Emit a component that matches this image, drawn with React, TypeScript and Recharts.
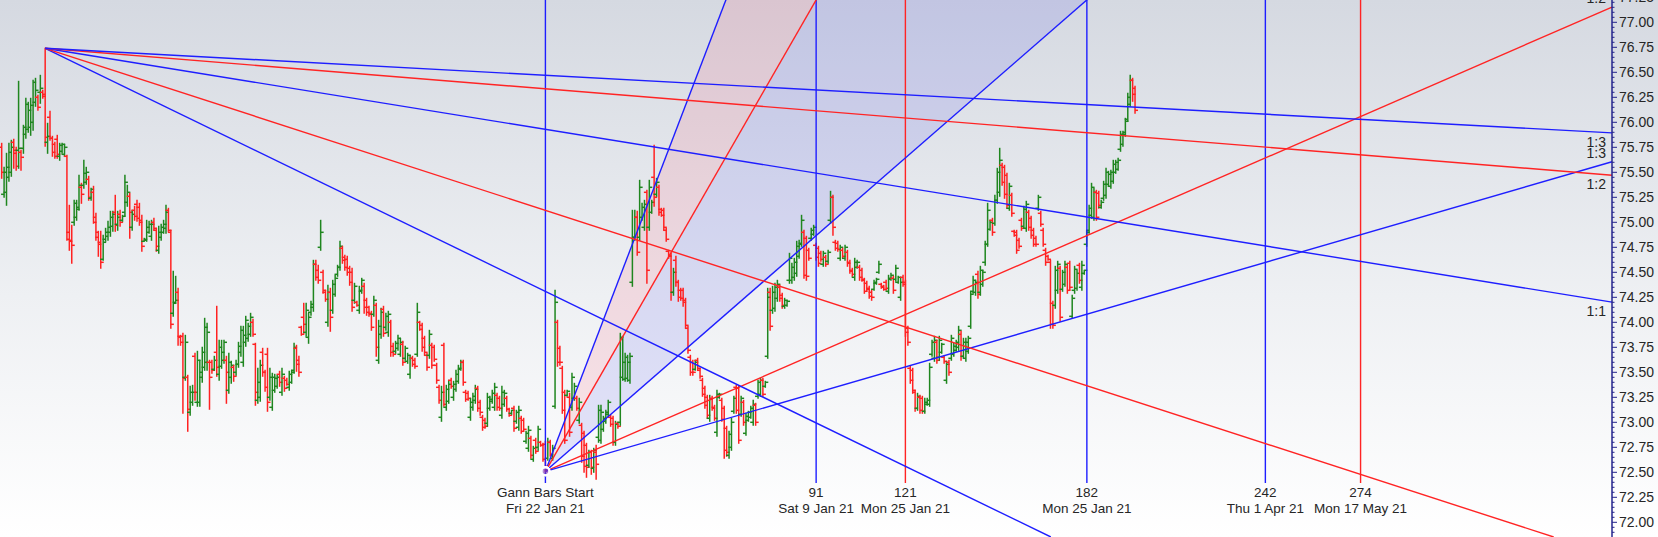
import { ComposedChart, Bar, Area, XAxis, YAxis, ReferenceLine, ReferenceDot } from "recharts"

// open, high, low, close
type Ohlc = [number, number, number, number]

const BARS_1: Ohlc[] = [
  [75.75, 75.79, 75.44, 75.5], [75.28, 75.55, 75.25, 75.5], [75.3, 75.69, 75.17, 75.55], [75.45, 75.79, 75.41, 75.7],
  [75.5, 75.82, 75.46, 75.75], [75.8, 75.83, 75.54, 75.69], [75.72, 75.75, 75.52, 75.56], [75.72, 76.41, 75.54, 75.74],
  [75.7, 75.72, 75.52, 75.65], [75.74, 75.97, 75.69, 75.95], [75.88, 76.24, 75.84, 76.18], [75.93, 76.2, 75.9, 76.12],
  [75.95, 76.24, 75.87, 76.17], [76.0, 76.42, 75.92, 76.4], [76.2, 76.44, 76.16, 76.32], [76.25, 76.27, 76.12, 76.15],
  [76.3, 76.47, 76.19, 76.34], [76.3, 76.32, 76.24, 76.26], [76.28, 76.74, 75.76, 75.85], [75.8, 75.99, 75.69, 75.86],
  [76.05, 76.11, 75.82, 75.84], [75.84, 75.86, 75.66, 75.7], [75.78, 75.8, 75.64, 75.66], [75.83, 75.87, 75.64, 75.68],
  [75.66, 75.79, 75.62, 75.77], [75.71, 75.79, 75.69, 75.78], [75.68, 75.78, 75.66, 75.75], [75.66, 75.67, 74.82, 74.83],
  [74.9, 75.17, 74.72, 74.81], [74.82, 74.97, 74.59, 74.77], [75.0, 75.22, 74.97, 75.19], [75.05, 75.22, 75.02, 75.13],
  [75.15, 75.47, 75.12, 75.37], [75.35, 75.39, 75.19, 75.28], [75.37, 75.62, 75.34, 75.49], [75.4, 75.55, 75.38, 75.5],
  [75.43, 75.46, 75.22, 75.25], [75.24, 75.34, 75.22, 75.33], [75.3, 75.36, 74.99, 75.0], [75.05, 75.09, 74.82, 74.9],
  [74.85, 74.91, 74.66, 74.78], [74.8, 74.91, 74.54, 74.6], [74.63, 74.87, 74.62, 74.8], [74.83, 74.94, 74.81, 74.9],
  [74.86, 75.01, 74.82, 74.95], [74.9, 75.11, 74.86, 75.05], [74.96, 75.11, 74.91, 75.08], [75.1, 75.27, 74.91, 74.97],
  [74.98, 75.11, 74.92, 75.05], [75.08, 75.12, 74.96, 75.0], [75.02, 75.07, 75.01, 75.06], [75.1, 75.47, 75.06, 75.4],
  [75.2, 75.37, 75.16, 75.3], [75.26, 75.29, 74.84, 75.1], [74.95, 75.12, 74.92, 75.08], [75.12, 75.16, 75.02, 75.06],
  [75.18, 75.22, 75.01, 75.04], [75.15, 75.19, 74.97, 75.0], [75.02, 75.07, 74.71, 74.76], [74.81, 74.84, 74.81, 74.83],
  [74.82, 75.02, 74.81, 74.95], [74.9, 75.01, 74.89, 74.98], [74.86, 75.02, 74.82, 74.98], [75.0, 75.04, 74.92, 74.94],
  [74.92, 74.94, 74.71, 74.76], [74.72, 74.96, 74.69, 74.9], [74.85, 74.98, 74.82, 74.95], [74.9, 75.02, 74.89, 74.98],
  [74.94, 75.17, 74.89, 75.1], [75.12, 75.14, 74.91, 74.92], [74.9, 74.92, 73.94, 73.98], [74.09, 74.51, 74.06, 74.19],
  [74.2, 74.46, 74.19, 74.22], [74.3, 74.34, 73.77, 73.85], [73.86, 73.87, 73.77, 73.8], [73.86, 73.89, 73.09, 73.44],
  [73.45, 73.87, 73.42, 73.8], [73.45, 73.47, 72.91, 73.13], [73.1, 73.36, 73.07, 73.3], [73.2, 73.37, 73.17, 73.3],
  [73.66, 73.69, 73.22, 73.3], [73.2, 73.71, 73.16, 73.62], [73.2, 73.62, 73.16, 73.5], [73.45, 73.75, 73.4, 73.7],
  [73.55, 74.04, 73.52, 73.95], [73.6, 73.99, 73.52, 73.9], [73.6, 73.62, 73.13, 73.45], [73.6, 73.62, 73.49, 73.52],
  [73.53, 73.66, 73.52, 73.62], [73.7, 74.16, 73.46, 73.55], [73.48, 73.82, 73.42, 73.75], [73.56, 73.82, 73.54, 73.7],
  [73.62, 73.82, 73.59, 73.8], [73.62, 73.66, 73.19, 73.5], [73.32, 73.69, 73.29, 73.6], [73.45, 73.61, 73.39, 73.57],
  [73.55, 73.57, 73.41, 73.46], [73.5, 73.62, 73.47, 73.58], [73.58, 73.8, 73.55, 73.76], [73.7, 73.96, 73.66, 73.92],
  [73.6, 73.96, 73.56, 73.87], [73.8, 74.06, 73.76, 74.02], [73.84, 73.99, 73.81, 73.96], [73.88, 74.09, 73.86, 74.05],
  [74.0, 74.03, 73.86, 73.88], [73.78, 73.79, 73.17, 73.3], [73.22, 73.54, 73.19, 73.4], [73.25, 73.62, 73.21, 73.57],
  [73.7, 73.74, 73.46, 73.5], [73.5, 73.52, 73.31, 73.35], [73.68, 73.74, 73.11, 73.2], [73.25, 73.54, 73.22, 73.45],
  [73.15, 73.49, 73.12, 73.45], [73.32, 73.48, 73.3, 73.44], [73.36, 73.47, 73.34, 73.45], [73.48, 73.51, 73.36, 73.4],
  [73.3, 73.54, 73.27, 73.48], [73.44, 73.46, 73.31, 73.34],
]

const BARS_2: Ohlc[] = [
  [73.42, 73.44, 73.37, 73.38], [73.35, 73.51, 73.32, 73.48], [73.4, 73.52, 73.39, 73.5], [73.52, 73.79, 73.49, 73.75],
  [73.74, 73.77, 73.51, 73.58], [73.62, 73.66, 73.46, 73.5], [73.95, 73.96, 73.87, 73.88], [74.05, 74.19, 73.89, 73.98],
  [73.9, 74.19, 73.86, 74.12], [73.85, 74.09, 73.79, 74.05], [74.1, 74.21, 74.07, 74.18], [74.15, 74.62, 74.11, 74.58],
  [74.58, 74.62, 74.42, 74.45], [74.52, 74.57, 74.39, 74.42], [74.75, 75.02, 74.72, 74.9], [74.5, 74.52, 74.29, 74.32],
  [74.3, 74.32, 74.21, 74.23], [74.0, 74.37, 73.96, 74.3], [74.3, 74.34, 73.91, 74.05], [74.12, 74.42, 74.09, 74.38],
  [74.28, 74.47, 74.26, 74.44], [74.48, 74.57, 74.46, 74.55], [74.55, 74.81, 74.52, 74.76], [74.74, 74.76, 74.59, 74.62],
  [74.65, 74.67, 74.52, 74.55], [74.63, 74.66, 74.47, 74.5], [74.54, 74.56, 74.37, 74.4], [74.5, 74.54, 74.11, 74.15],
  [74.22, 74.39, 74.19, 74.36], [74.2, 74.21, 74.16, 74.17], [74.12, 74.36, 74.09, 74.32], [74.31, 74.44, 74.29, 74.42],
  [74.36, 74.39, 74.09, 74.15], [74.22, 74.24, 74.07, 74.1], [74.15, 74.16, 74.06, 74.08], [74.09, 74.11, 73.92, 73.95],
  [74.08, 74.26, 74.06, 74.22], [74.17, 74.19, 73.66, 73.75], [73.62, 74.02, 73.59, 73.96], [73.88, 74.14, 73.84, 74.1],
  [74.13, 74.16, 73.86, 73.89], [73.95, 74.09, 73.92, 74.06], [73.9, 74.11, 73.86, 74.08], [74.0, 74.02, 73.66, 73.7],
  [73.76, 73.79, 73.66, 73.68], [73.71, 73.81, 73.69, 73.79], [73.74, 73.87, 73.72, 73.84], [73.68, 73.84, 73.66, 73.8],
  [73.78, 73.81, 73.57, 73.6], [73.64, 73.76, 73.62, 73.74], [73.61, 73.69, 73.59, 73.67], [73.48, 73.67, 73.44, 73.64],
  [73.64, 73.66, 73.56, 73.58], [73.62, 73.64, 73.54, 73.56], [73.68, 74.19, 73.66, 74.1], [74.0, 74.01, 73.92, 73.93],
  [73.97, 73.99, 73.71, 73.75], [73.84, 73.86, 73.67, 73.7], [73.67, 73.69, 73.52, 73.55], [73.67, 73.92, 73.64, 73.88],
  [73.77, 73.79, 73.54, 73.57], [73.75, 73.77, 73.61, 73.63], [73.57, 73.59, 73.39, 73.42], [73.35, 73.37, 73.19, 73.22],
  [73.05, 73.36, 73.01, 73.3], [73.77, 73.79, 73.16, 73.18], [73.15, 73.37, 73.12, 73.33], [73.21, 73.42, 73.19, 73.38],
  [73.42, 73.44, 73.34, 73.36], [73.25, 73.41, 73.22, 73.38], [73.33, 73.52, 73.31, 73.48], [73.41, 73.57, 73.39, 73.54],
  [73.53, 73.62, 73.52, 73.6], [73.6, 73.62, 73.37, 73.4], [73.3, 73.32, 73.21, 73.23], [73.29, 73.31, 73.22, 73.24],
  [73.05, 73.24, 73.02, 73.2], [73.15, 73.29, 73.12, 73.26], [73.22, 73.37, 73.19, 73.33], [73.34, 73.36, 73.11, 73.14],
  [73.2, 73.22, 73.07, 73.1], [73.05, 73.07, 72.92, 72.95], [73.02, 73.04, 72.94, 72.96], [72.99, 73.29, 72.96, 73.25],
  [73.14, 73.26, 73.12, 73.23], [73.21, 73.32, 73.19, 73.29], [73.15, 73.39, 73.12, 73.35], [73.27, 73.29, 73.12, 73.15],
  [73.24, 73.26, 73.12, 73.14], [73.07, 73.36, 73.04, 73.3], [73.18, 73.32, 73.16, 73.29], [73.24, 73.26, 73.11, 73.13],
  [73.13, 73.14, 73.06, 73.07], [73.09, 73.12, 73.08, 73.12], [73.14, 73.16, 72.91, 72.94], [73.01, 73.12, 72.99, 73.1],
  [72.95, 73.16, 72.92, 73.12], [73.04, 73.06, 72.89, 72.91], [73.02, 73.04, 72.91, 72.93], [72.81, 72.91, 72.79, 72.89],
  [72.74, 72.96, 72.71, 72.92], [72.84, 72.86, 72.64, 72.67], [72.63, 72.76, 72.61, 72.74], [72.82, 72.84, 72.69, 72.71],
  [72.75, 72.96, 72.72, 72.93], [72.8, 72.81, 72.76, 72.77], [72.77, 72.79, 72.61, 72.63], [72.78, 72.81, 72.51, 72.56],
  [72.64, 72.84, 72.62, 72.8], [72.8, 72.82, 72.66, 72.68], [72.64, 72.77, 72.62, 72.74], [73.16, 74.32, 73.14, 74.2],
  [74.0, 74.02, 73.56, 73.6], [73.74, 73.76, 73.57, 73.6], [73.54, 73.56, 73.09, 73.12], [73.3, 73.32, 72.79, 72.82],
  [73.27, 73.32, 73.26, 73.31],
]

const BARS_3: Ohlc[] = [
  [73.25, 73.29, 72.86, 72.9], [73.15, 73.49, 73.12, 73.45], [73.24, 73.39, 73.22, 73.36], [73.24, 73.26, 73.12, 73.14],
  [73.02, 73.24, 72.99, 73.2], [72.97, 72.99, 72.6, 72.66], [72.89, 72.91, 72.5, 72.56], [72.77, 72.79, 72.45, 72.55],
  [72.57, 72.72, 72.55, 72.7], [72.7, 72.72, 72.48, 72.55], [72.54, 72.74, 72.5, 72.72], [72.7, 72.77, 72.43, 72.58],
  [72.85, 73.17, 72.8, 73.12], [72.82, 73.17, 72.79, 73.1], [72.93, 73.06, 72.91, 73.04], [73.01, 73.12, 72.99, 73.1],
  [73.08, 73.22, 73.06, 73.2], [73.05, 73.07, 72.96, 72.98], [73.04, 73.06, 72.77, 72.8], [72.8, 73.01, 72.77, 72.98],
  [72.99, 73.0, 72.94, 72.96], [73.0, 73.89, 72.97, 73.85], [73.45, 73.86, 73.42, 73.6], [73.43, 73.69, 73.41, 73.65],
  [73.44, 73.67, 73.41, 73.6], [73.42, 73.69, 73.39, 73.66], [74.4, 75.12, 74.36, 74.85], [74.85, 75.12, 74.82, 75.05],
  [75.05, 75.11, 74.67, 74.7], [74.85, 75.42, 74.82, 75.35], [75.05, 75.19, 75.02, 75.15], [74.95, 75.22, 74.92, 75.18],
  [75.3, 75.32, 74.39, 74.52], [74.95, 75.42, 74.92, 75.35], [75.1, 75.22, 75.09, 75.2], [75.45, 75.77, 75.16, 75.25],
  [75.28, 75.44, 75.26, 75.4], [75.35, 75.37, 75.07, 75.1], [75.13, 75.14, 75.06, 75.07], [75.12, 75.14, 74.92, 74.95],
  [74.92, 74.94, 74.81, 74.83], [74.71, 74.72, 74.64, 74.66], [74.67, 74.69, 74.22, 74.3], [74.3, 74.54, 74.27, 74.5],
  [74.62, 74.66, 74.36, 74.4], [74.4, 74.42, 74.21, 74.25], [74.32, 74.34, 74.22, 74.24], [74.32, 74.34, 74.16, 74.2],
  [74.22, 74.24, 73.94, 73.97], [73.94, 73.96, 73.69, 73.72], [73.65, 73.67, 73.47, 73.5], [73.6, 73.62, 73.47, 73.5],
  [73.53, 73.62, 73.52, 73.6], [73.62, 73.64, 73.52, 73.54], [73.52, 73.54, 73.44, 73.46], [73.42, 73.44, 73.26, 73.28],
  [73.34, 73.36, 73.14, 73.17], [73.25, 73.27, 73.04, 73.07], [73.04, 73.27, 73.01, 73.23], [73.24, 73.26, 73.12, 73.14],
  [73.15, 73.17, 73.02, 73.04], [72.9, 73.32, 72.86, 73.28], [73.25, 73.29, 73.24, 73.28], [73.22, 73.24, 73.01, 73.03],
  [73.14, 73.16, 72.64, 72.72], [72.94, 72.96, 72.66, 72.7], [72.67, 72.91, 72.64, 72.88], [72.75, 73.04, 72.72, 73.0],
  [73.11, 73.26, 73.09, 73.24], [73.35, 73.37, 73.09, 73.12], [73.34, 73.36, 72.79, 72.82], [73.08, 73.26, 73.06, 73.24],
  [73.2, 73.22, 72.97, 73.0], [72.89, 73.09, 72.87, 73.06], [73.02, 73.11, 73.01, 73.1], [73.05, 73.16, 73.04, 73.14],
  [73.0, 73.22, 72.97, 73.18], [73.17, 73.19, 72.97, 73.0], [73.26, 73.42, 73.24, 73.4], [73.28, 73.44, 73.26, 73.42],
  [73.42, 73.44, 73.26, 73.28], [73.36, 73.41, 73.35, 73.4], [73.66, 74.34, 73.64, 74.25], [74.3, 74.34, 73.92, 73.96],
  [74.12, 74.36, 74.09, 74.3], [74.14, 74.39, 74.11, 74.35], [74.24, 74.42, 74.21, 74.38], [74.35, 74.37, 74.21, 74.24],
  [74.27, 74.29, 74.14, 74.17], [74.16, 74.24, 74.14, 74.22], [74.17, 74.22, 74.16, 74.21], [74.42, 74.69, 74.39, 74.64],
  [74.42, 74.59, 74.39, 74.55], [74.45, 74.64, 74.42, 74.6], [74.49, 74.81, 74.46, 74.76], [74.66, 74.82, 74.64, 74.78],
  [74.79, 75.07, 74.76, 75.02], [74.9, 74.92, 74.44, 74.47], [74.84, 74.86, 74.42, 74.46], [74.72, 74.74, 74.62, 74.64],
  [74.84, 74.94, 74.82, 74.92], [74.88, 74.97, 74.87, 74.95], [74.77, 74.79, 74.62, 74.65], [74.74, 74.76, 74.56, 74.59],
  [74.69, 74.71, 74.61, 74.63], [74.58, 74.71, 74.56, 74.69], [74.65, 74.67, 74.56, 74.58], [74.61, 74.72, 74.59, 74.7],
  [75.02, 75.31, 74.99, 75.25], [75.25, 75.27, 74.87, 74.95], [74.8, 74.82, 74.72, 74.74], [74.79, 74.81, 74.71, 74.73],
  [74.64, 74.77, 74.62, 74.75], [74.72, 74.74, 74.64, 74.66], [74.64, 74.77, 74.62, 74.75], [74.7, 74.72, 74.56, 74.59],
  [74.6, 74.62, 74.49, 74.51], [74.52, 74.54, 74.46, 74.48], [74.45, 74.64, 74.42, 74.6],
]

const BARS_4: Ohlc[] = [
  [74.55, 74.62, 74.54, 74.6], [74.55, 74.57, 74.42, 74.45], [74.52, 74.54, 74.41, 74.43], [74.42, 74.44, 74.29, 74.31],
  [74.39, 74.41, 74.31, 74.33], [74.34, 74.36, 74.24, 74.26], [74.3, 74.32, 74.22, 74.25], [74.33, 74.42, 74.32, 74.4],
  [74.39, 74.44, 74.38, 74.43], [74.5, 74.61, 74.49, 74.58], [74.38, 74.39, 74.34, 74.35], [74.36, 74.37, 74.32, 74.33],
  [74.4, 74.42, 74.32, 74.34], [74.31, 74.47, 74.29, 74.44], [74.43, 74.49, 74.42, 74.47], [74.44, 74.46, 74.29, 74.32],
  [74.43, 74.57, 74.41, 74.54], [74.4, 74.46, 74.39, 74.45], [74.25, 74.44, 74.22, 74.4], [74.45, 74.47, 74.36, 74.38],
  [74.4, 74.42, 73.86, 73.9], [73.94, 73.96, 73.77, 73.8], [73.54, 73.56, 73.39, 73.42], [73.52, 73.54, 73.29, 73.32],
  [73.3, 73.32, 73.11, 73.14], [73.14, 73.29, 73.12, 73.26], [73.25, 73.27, 73.09, 73.12], [73.24, 73.26, 73.09, 73.11],
  [73.11, 73.24, 73.09, 73.2], [73.18, 73.24, 73.17, 73.22], [73.18, 73.59, 73.16, 73.55], [73.68, 73.82, 73.66, 73.8],
  [73.64, 73.86, 73.61, 73.82], [73.8, 73.82, 73.59, 73.62], [73.65, 73.86, 73.62, 73.82], [73.7, 73.79, 73.69, 73.78],
  [73.65, 73.66, 73.59, 73.61], [73.42, 73.61, 73.39, 73.58], [73.6, 73.62, 73.47, 73.5], [73.64, 73.87, 73.62, 73.84],
  [73.68, 73.79, 73.66, 73.76], [73.72, 73.82, 73.71, 73.8], [73.75, 73.96, 73.72, 73.92], [73.88, 73.91, 73.62, 73.66],
  [73.66, 73.84, 73.64, 73.8], [73.64, 73.84, 73.61, 73.8], [73.71, 73.86, 73.69, 73.84], [73.96, 74.31, 73.94, 74.28],
  [74.31, 74.46, 74.29, 74.42], [74.3, 74.42, 74.27, 74.4], [74.48, 74.51, 74.24, 74.28], [74.3, 74.56, 74.27, 74.52],
  [74.38, 74.52, 74.36, 74.5], [74.6, 74.81, 74.57, 74.78], [74.78, 75.19, 74.76, 75.12], [74.93, 75.02, 74.92, 75.0],
  [75.02, 75.04, 74.87, 74.9], [74.99, 75.27, 74.97, 75.22], [75.22, 75.54, 75.19, 75.5], [75.3, 75.74, 75.26, 75.62],
  [75.57, 75.59, 75.37, 75.4], [75.55, 75.57, 75.24, 75.28], [75.47, 75.49, 75.14, 75.17], [75.14, 75.39, 75.12, 75.36],
  [75.27, 75.29, 75.06, 75.09], [74.91, 74.92, 74.86, 74.87], [74.9, 74.92, 74.69, 74.72], [74.82, 74.84, 74.74, 74.76],
  [75.02, 75.04, 74.92, 74.94], [74.96, 75.16, 74.94, 75.13], [74.94, 75.21, 74.91, 75.18], [75.1, 75.12, 74.92, 74.95],
  [75.04, 75.06, 74.84, 74.87], [74.92, 74.94, 74.76, 74.78], [74.84, 74.86, 74.76, 74.78], [75.14, 75.27, 75.12, 75.25],
  [75.09, 75.11, 74.96, 74.98], [74.92, 74.94, 74.76, 74.78], [74.72, 74.74, 74.57, 74.6], [74.66, 74.67, 74.62, 74.63],
  [74.6, 74.62, 73.94, 73.98], [74.19, 74.21, 73.94, 73.97], [74.17, 74.56, 74.14, 74.52], [74.32, 74.61, 74.29, 74.58],
  [74.54, 74.56, 74.01, 74.05], [74.33, 74.52, 74.31, 74.5], [74.38, 74.61, 74.36, 74.58], [74.55, 74.57, 74.29, 74.32],
  [74.59, 74.61, 74.32, 74.35], [74.06, 74.27, 74.04, 74.24], [74.32, 74.56, 74.29, 74.53], [74.34, 74.52, 74.32, 74.49],
  [74.57, 74.59, 74.39, 74.42], [74.35, 74.61, 74.32, 74.57], [74.49, 74.52, 74.48, 74.52], [74.78, 74.92, 74.76, 74.9],
  [74.92, 75.17, 74.89, 75.14], [75.07, 75.39, 75.04, 75.35], [75.05, 75.34, 75.02, 75.3], [75.3, 75.32, 75.02, 75.05],
  [75.29, 75.31, 75.14, 75.17], [75.15, 75.22, 75.14, 75.2], [75.24, 75.41, 75.22, 75.38], [75.27, 75.54, 75.24, 75.5],
  [75.38, 75.51, 75.36, 75.48], [75.36, 75.52, 75.34, 75.5], [75.41, 75.62, 75.39, 75.58], [75.5, 75.62, 75.49, 75.6],
  [75.53, 75.64, 75.52, 75.62], [75.73, 75.91, 75.71, 75.88], [75.78, 75.91, 75.76, 75.9], [75.88, 76.04, 75.86, 76.01],
  [76.03, 76.29, 76.01, 76.25], [76.18, 76.47, 76.16, 76.42], [76.42, 76.44, 76.21, 76.28], [76.34, 76.36, 76.09, 76.12],
]

// fan anchors (bar index, price)
const PIVOT_BAR = 18
const PIVOT_PRICE = 76.74
const START_BAR = 225
const START_PRICE = 72.51

const GANN_COUNTS = [0, 91, 121, 182, 242, 274]
const GANN_TITLES = ["Gann Bars Start", "91", "121", "182", "242", "274"]
const GANN_DATES = ["Fri 22 Jan 21", "Sat 9 Jan 21", "Mon 25 Jan 21", "Mon 25 Jan 21", "Thu 1 Apr 21", "Mon 17 May 21"]

const FAN_NAMES = ["3:1", "2:1", "1:1", "1:2", "1:3"]
const FAN_FACTORS = [3, 2, 1, 1 / 2, 1 / 3]
const UP_SLOPE = 0.0259 // price per gann bar on the 1:1 line
const DOWN_SLOPE = 0.004819
const BARS_PER_GANN = 1.2311

const X_MIN = -0.7
const X_MAX = 666.37
const Y_MIN = 71.853
const Y_MAX = 77.343
const V_BOTTOM = 72.393

const BLUE = "#1e1eff"
const RED = "#ff2424"
const UP = "#1f861f"
const DOWN = "#ff2222"
const AXIS = "#24248c"
const TEXT = "#262626"
const FONT = "'Liberation Sans', Arial, sans-serif"
const FAN_COLORS = [BLUE, RED, BLUE, RED, BLUE]
const VLINE_COLORS = [BLUE, BLUE, RED, BLUE, BLUE, RED]

const rows = [...BARS_1, ...BARS_2, ...BARS_3, ...BARS_4].map(([o, h, l, c], i) => ({ i, o, h, l, c, range: [l, h] }))

const priceTicks = Array.from({ length: 109 }, (_, k) => Math.round((71.9 + k * 0.05) * 100) / 100)

function extend(x0: number, p0: number, m: number) {
  let x1 = X_MAX
  let p1 = p0 + m * (x1 - x0)
  if (p1 > Y_MAX) { x1 = x0 + (Y_MAX - p0) / m; p1 = Y_MAX }
  if (p1 < Y_MIN) { x1 = x0 + (Y_MIN - p0) / m; p1 = Y_MIN }
  return { x1, p1 }
}

const upFan = FAN_FACTORS.map((f, k) => ({
  name: FAN_NAMES[k], color: FAN_COLORS[k], x0: START_BAR, p0: START_PRICE, above: true,
  ...extend(START_BAR, START_PRICE, (UP_SLOPE * f) / BARS_PER_GANN),
}))
const downFan = FAN_FACTORS.map((f, k) => ({
  name: FAN_NAMES[k], color: FAN_COLORS[k], x0: PIVOT_BAR, p0: PIVOT_PRICE, above: false,
  ...extend(PIVOT_BAR, PIVOT_PRICE, -(DOWN_SLOPE * f) / BARS_PER_GANN),
}))
const fans = [...upFan, ...downFan]

const k1 = UP_SLOPE / BARS_PER_GANN
const topAt = (f: number) => START_BAR + (Y_MAX - START_PRICE) / (k1 * f)
const fanAt = (f: number, x: number) => START_PRICE + k1 * f * (x - START_BAR)
const redBand = [
  { i: START_BAR, band: [START_PRICE, START_PRICE] },
  { i: topAt(3), band: [fanAt(2, topAt(3)), Y_MAX] },
  { i: topAt(2), band: [Y_MAX, Y_MAX] },
]
const blueBand = [
  { i: START_BAR, band: [START_PRICE, START_PRICE] },
  { i: topAt(2), band: [fanAt(1, topAt(2)), Y_MAX] },
  { i: topAt(1), band: [Y_MAX, Y_MAX] },
]

function OhlcShape(props: any) {
  const { x, y, width, height, payload } = props
  const top = Math.min(y, y + height)
  const bottom = Math.max(y, y + height)
  const { o, h, l, c } = payload
  const span = h - l
  const pos = (v: number) => (span > 0 ? top + ((h - v) / span) * (bottom - top) : top)
  const cx = x + width / 2
  const col = c >= o ? UP : DOWN
  return (
    <g stroke={col} strokeWidth={1.5}>
      <line x1={cx} x2={cx} y1={top - 0.5} y2={bottom + 0.5} />
      <line x1={cx - 3} x2={cx} y1={pos(o)} y2={pos(o)} />
      <line x1={cx} x2={cx + 3} y1={pos(c)} y2={pos(c)} />
    </g>
  )
}

function PriceTick(props: any) {
  const { x, y, payload } = props
  const v = payload.value
  const major = Math.round(v * 100) % 25 === 0
  return (
    <g>
      <line x1={x} x2={x + (major ? 5 : 2.5)} y1={y} y2={y} stroke={AXIS} strokeWidth={1} />
      {major && (
        <text x={x + 7} y={y} dy={5} fill={TEXT} fontSize={14} fontFamily={FONT}>
          {v.toFixed(2)}
        </text>
      )}
    </g>
  )
}

export default function App() {
  return (
    <div
      style={{
        position: "absolute", left: 0, top: 0, width: 1658, height: 537, overflow: "hidden",
        background: "linear-gradient(to bottom, #d5d9e1 0%, #eef0f3 55%, #ffffff 100%)",
      }}
    >
      <div style={{ position: "absolute", left: 0, top: -12 }}>
        <ComposedChart width={1658} height={549} data={rows} margin={{ top: 0, right: 0, bottom: 0, left: 0 }}>
          <XAxis type="number" dataKey="i" domain={[X_MIN, X_MAX]} allowDataOverflow hide />
          <YAxis
            orientation="right"
            type="number"
            domain={[Y_MIN, Y_MAX]}
            allowDataOverflow
            ticks={priceTicks}
            interval={0}
            width={46}
            tickSize={0}
            tickMargin={0}
            tickLine={false}
            axisLine={{ stroke: AXIS, strokeWidth: 1.5 }}
            tick={(p: any) => <PriceTick {...p} />}
          />
          <Area data={redBand} dataKey="band" type="linear" stroke="none" fill="rgba(255,60,90,0.2)" isAnimationActive={false} />
          <Area data={blueBand} dataKey="band" type="linear" stroke="none" fill="rgba(60,60,235,0.2)" isAnimationActive={false} />
          <Bar dataKey="range" barSize={2} shape={(p: any) => <OhlcShape {...p} />} isAnimationActive={false} />
          {GANN_COUNTS.map((n, k) => {
            const xv = START_BAR + n * BARS_PER_GANN
            return (
              <ReferenceLine
                key={"v" + k}
                segment={[{ x: xv, y: Y_MAX }, { x: xv, y: V_BOTTOM }]}
                stroke={VLINE_COLORS[k]}
                strokeWidth={1.4}
                ifOverflow="visible"
              />
            )
          })}
          {fans.map((f, k) => (
            <ReferenceLine
              key={"f" + k}
              segment={[{ x: f.x0, y: f.p0 }, { x: f.x1, y: f.p1 }]}
              stroke={f.color}
              strokeWidth={1.4}
              ifOverflow="visible"
            />
          ))}
          {fans.filter((f) => f.x1 >= X_MAX - 1e-6).map((f, k) => (
            <ReferenceDot
              key={"fl" + k}
              x={f.x1}
              y={f.p1}
              r={0}
              ifOverflow="visible"
              label={(p: any) => (
                <text x={p.viewBox.x - 6} y={p.viewBox.y + (f.above ? -9 : 9)} dy={5} textAnchor="end" fill={TEXT} fontSize={14} fontFamily={FONT}>
                  {f.name}
                </text>
              )}
            />
          ))}
          {GANN_COUNTS.map((n, k) => (
            <ReferenceDot
              key={"vl" + k}
              x={START_BAR + n * BARS_PER_GANN}
              y={V_BOTTOM}
              r={0}
              ifOverflow="visible"
              label={(p: any) => (
                <g fill={TEXT} fontSize={13.5} fontFamily={FONT} textAnchor="middle">
                  <text x={p.viewBox.x} y={p.viewBox.y + 14}>{GANN_TITLES[k]}</text>
                  <text x={p.viewBox.x} y={p.viewBox.y + 30}>{GANN_DATES[k]}</text>
                </g>
              )}
            />
          ))}
        </ComposedChart>
      </div>
    </div>
  )
}
